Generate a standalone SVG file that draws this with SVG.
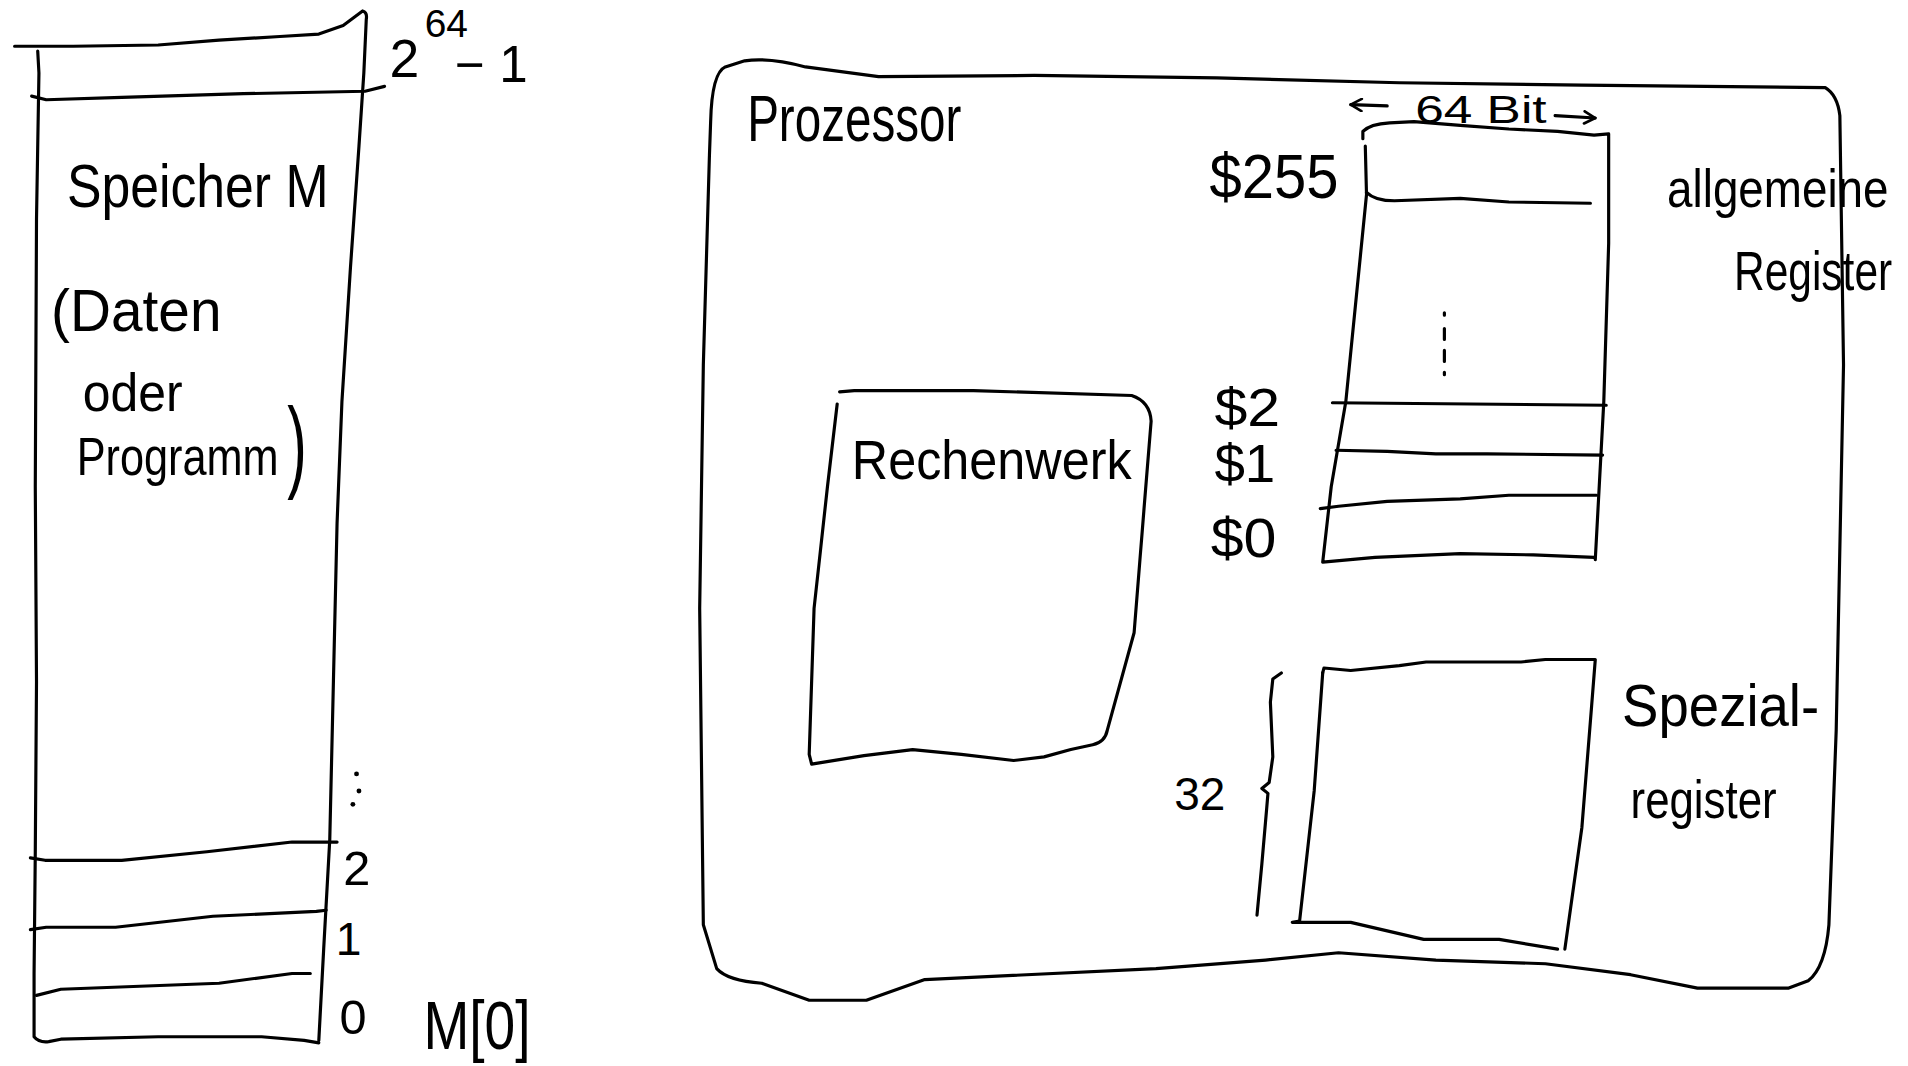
<svg xmlns="http://www.w3.org/2000/svg" width="1908" height="1066" viewBox="0 0 1908 1066">
  <defs>
    <style>
      .ink { fill: none; stroke: #000; stroke-width: 2.6; stroke-linecap: round; stroke-linejoin: round; }
      .hand { font-family: "Liberation Sans", "DejaVu Sans", sans-serif; fill: #000; }
    </style>
    <marker id="vhead" viewBox="0 0 12 12" refX="11" refY="6" markerWidth="12" markerHeight="12" markerUnits="userSpaceOnUse" orient="auto">
      <path d="M2,1 L11,6 L2,11" fill="none" stroke="#000" stroke-width="2.2" stroke-linecap="round" stroke-linejoin="round"/>
    </marker>
  </defs>
  <rect width="1908" height="1066" fill="#fff"/>

  <!-- sketch is drawn on a 1568x876 grid and scaled up -->
  <g transform="scale(1.21684)">

    <!-- memory column -->
    <g id="memory">
      <path class="ink" d="M12,38 L60,38 L130,37 L180,33 L230,30 L262,28 L282,21 L298,9 Q302,10 301,16 L299,60 L295,120 L288,220 L281,330 L277,430 L274,560 L271,690 L266,780 L262,855"/>
      <path class="ink" d="M31,42 L32,60 L30,180 L29,400 L30,560 L29,700 L28,800 L28,852 Q32,857 40,856 L50,854 L130,852 L215,852 L250,855 L262,857"/>
      <path class="ink" d="M26,79 L38,82 L100,80 L200,77 L300,75 L316,71"/>
      <path class="ink" d="M25,705 L37,707 L100,707 L170,700 L240,692 L277,692"/>
      <path class="ink" d="M25,764 L38,762 L95,762 L175,753 L260,749 L268,748"/>
      <path class="ink" d="M30,818 L50,813 L180,808 L240,800 L255,800"/>
      <g fill="#000">
        <circle cx="293" cy="636" r="2"/>
        <circle cx="295" cy="650" r="2"/>
        <circle cx="290" cy="661" r="2"/>
      </g>
      <text class="hand" x="55" y="170" font-size="50" textLength="215" lengthAdjust="spacingAndGlyphs">Speicher M</text>
      <text class="hand" x="42" y="272" font-size="48" textLength="140" lengthAdjust="spacingAndGlyphs">(Daten</text>
      <text class="hand" x="68" y="338" font-size="44" textLength="82" lengthAdjust="spacingAndGlyphs">oder</text>
      <text class="hand" x="63" y="390" font-size="44"><tspan textLength="166" lengthAdjust="spacingAndGlyphs">Programm</tspan><tspan x="236" y="394" font-size="84" textLength="16" lengthAdjust="spacingAndGlyphs">)</tspan></text>
      <text class="hand" x="320" y="63" font-size="44">2<tspan x="349" y="30" font-size="32">64</tspan><tspan x="374" y="67" font-size="42">− 1</tspan></text>
      <text class="hand" x="282" y="727" font-size="40">2</text>
      <text class="hand" x="276" y="785" font-size="38">1</text>
      <text class="hand" x="279" y="850" font-size="40">0</text>
      <text class="hand" x="348" y="862" font-size="56" textLength="88" lengthAdjust="spacingAndGlyphs">M[0]</text>
    </g>

    <!-- processor outline -->
    <g id="processor">
      <path class="ink" d="M583,128 L584,100 Q585,60 596,55 L612,50 Q632,47 662,55 L722,63 L850,62 L1000,64 L1150,68 L1300,70 L1500,72 Q1510,78 1512,95 L1515,300 L1509,600 L1503,760 Q1500,795 1486,806 L1470,812 L1395,812 L1340,801 L1270,792 L1180,789 L1100,783 L1040,789 L950,796 L760,805 L712,822 L665,822 L626,808 Q598,806 589,796 L578,760 L575,500 L578,300 L583,128"/>
      <text class="hand" x="614" y="116" font-size="54" textLength="176" lengthAdjust="spacingAndGlyphs">Prozessor</text>
    </g>

    <!-- arithmetic unit -->
    <g id="rechenwerk">
      <path class="ink" d="M690,322 L702,321 L800,321 L930,325 Q945,330 946,346 L940,420 L932,520 L910,600 Q908,610 898,612 L880,616 L858,622 L833,625 L790,620 L750,616 L710,621 L667,628 L665,620 L669,500 L680,400 L688,332"/>
      <text class="hand" x="700" y="394" font-size="46" textLength="230" lengthAdjust="spacingAndGlyphs">Rechenwerk</text>
    </g>

    <!-- general purpose register file -->
    <g id="general-registers">
      <path class="ink" d="M1120,114 L1120,108 Q1126,102 1142,101 L1162,100 L1200,103 L1240,106 L1280,108 L1310,111 L1322,110 L1322,200 L1318,330 L1311,460"/>
      <path class="ink" d="M1122,120 L1123,160 L1106,330 L1094,400 L1087,462 L1130,458 L1200,455 L1260,456 L1310,458"/>
      <path class="ink" d="M1123,158 Q1130,165 1146,165 L1200,163 L1240,166 L1307,167"/>
      <path class="ink" d="M1095,331 L1320,333"/>
      <path class="ink" d="M1098,370 L1140,371 L1180,373 L1222,373 L1317,374"/>
      <path class="ink" d="M1085,418 L1100,416 L1140,412 L1200,410 L1240,407 L1312,407"/>
      <path class="ink" d="M1187,257 L1187,259 M1187,270 L1187,279 M1187,288 L1187,297 M1187,306 L1187,308"/>
      <text class="hand" x="994" y="163" font-size="52" textLength="106" lengthAdjust="spacingAndGlyphs">$255</text>
      <text class="hand" x="998" y="350" font-size="44" textLength="54" lengthAdjust="spacingAndGlyphs">$2</text>
      <text class="hand" x="998" y="396" font-size="44" textLength="50" lengthAdjust="spacingAndGlyphs">$1</text>
      <text class="hand" x="995" y="458" font-size="46" textLength="54" lengthAdjust="spacingAndGlyphs">$0</text>
      <text class="hand" x="1370" y="170" font-size="44" textLength="182" lengthAdjust="spacingAndGlyphs">allgemeine</text>
      <text class="hand" x="1425" y="238" font-size="46" textLength="130" lengthAdjust="spacingAndGlyphs">Register</text>
      <text class="hand" x="1163" y="101" font-size="32" textLength="108" lengthAdjust="spacingAndGlyphs">64 Bit</text>
    </g>

    <!-- special purpose registers -->
    <g id="special-registers">
      <path class="ink" d="M1087,553 L1088,549 L1110,551 L1150,547 L1172,544 L1250,544 L1270,542 L1311,542 L1308,580 L1300,680 L1286,780"/>
      <path class="ink" d="M1087,553 L1080,650 L1068,757 L1062,758 L1110,758 L1170,772 L1232,772 L1280,780"/>
      <path class="ink" d="M1053,553 L1046,558 L1044,577 L1046,622 L1043,643 L1037,648 L1042,652 L1041,664 L1037,710 L1033,752"/>
      <text class="hand" x="965" y="666" font-size="38" textLength="42" lengthAdjust="spacingAndGlyphs">32</text>
      <text class="hand" x="1333" y="597" font-size="48" textLength="162" lengthAdjust="spacingAndGlyphs">Spezial-</text>
      <text class="hand" x="1340" y="672" font-size="44" textLength="120" lengthAdjust="spacingAndGlyphs">register</text>
    </g>

    <!-- width arrows -->
    <g id="connectors">
      <path class="ink" d="M1140,87 L1110,86" marker-end="url(#vhead)"/>
      <path class="ink" d="M1278,95 L1311,97" marker-end="url(#vhead)"/>
    </g>
  </g>
</svg>
